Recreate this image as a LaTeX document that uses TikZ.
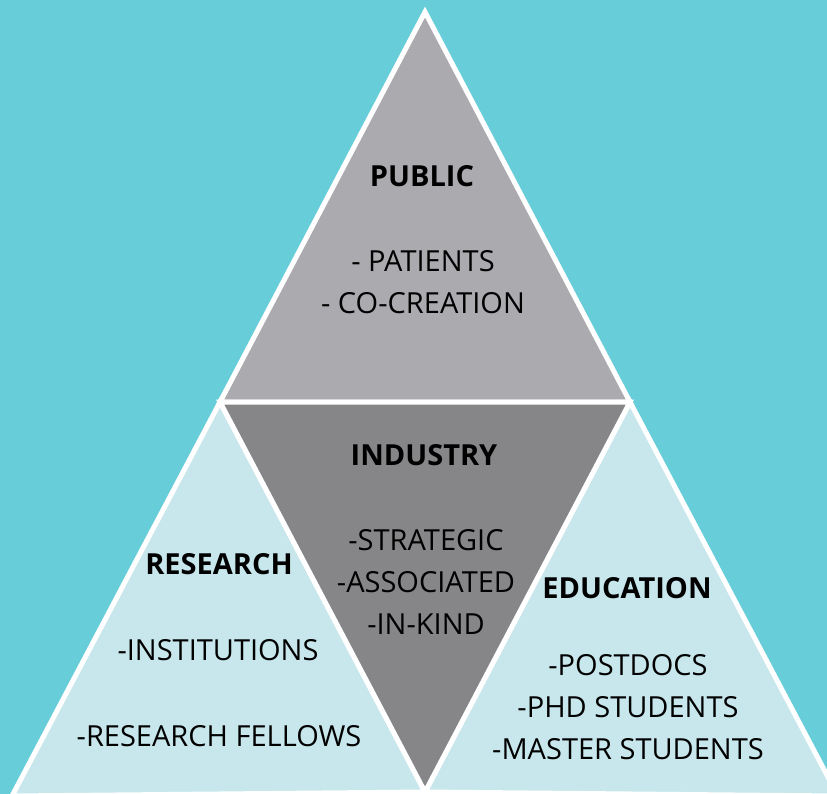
\documentclass[tikz,border=0pt]{standalone}
\usepackage{fontspec}
\setmainfont{Open Sans}
\definecolor{sea}{RGB}{103,205,217}
\definecolor{lightgrey}{RGB}{170,170,175}
\definecolor{darkgrey}{RGB}{134,134,136}
\definecolor{pale}{RGB}{199,231,236}

\begin{document}
\begin{tikzpicture}
  [x=1pt,y=-1pt,
   part/.style={draw=white,line width=5pt,line join=miter},
   head/.style={font=\fontsize{29}{34}\selectfont\bfseries,text=black},
   item/.style={font=\fontsize{29}{42}\selectfont,text=black,align=center}]
  \fill[sea] (0,0) rectangle (827,794);
  \useasboundingbox (0,0) rectangle (827,794);

  % corners
  \coordinate (top) at (425,12);
  \coordinate (ml) at (220,402);
  \coordinate (mr) at (630,402);
  \coordinate (bot) at (425,792);
  \coordinate (bl) at (12,796);
  \coordinate (br) at (838,796);

  \begin{scope}
    \clip (0,0) rectangle (827,794);
    \filldraw[part,fill=pale] (ml) -- (bl) -- (bot) -- cycle;
    \filldraw[part,fill=pale] (mr) -- (br) -- (bot) -- cycle;
    \filldraw[part,fill=lightgrey] (top) -- (ml) -- (mr) -- cycle;
    \filldraw[part,fill=darkgrey] (ml) -- (mr) -- (bot) -- cycle;
  \end{scope}

  \node[head] (pub) at (422,176) {PUBLIC};
  \node[item] (pubitems) at (423,282) {- PATIENTS\\- CO-CREATION};

  \node[head] (ind) at (424,455) {INDUSTRY};
  \node[item] (inditems) at (426,582) {-STRATEGIC\\-ASSOCIATED\\-IN-KIND};

  \node[head] (res) at (219,564) {RESEARCH};
  \node[item] (res1) at (218,650) {-INSTITUTIONS};
  \node[item] (res2) at (219,736) {-RESEARCH FELLOWS};

  \node[head] (edu) at (627,588) {EDUCATION};
  \node[item] (eduitems) at (628,707) {-POSTDOCS\\-PHD STUDENTS\\-MASTER STUDENTS};
\end{tikzpicture}
\end{document}
